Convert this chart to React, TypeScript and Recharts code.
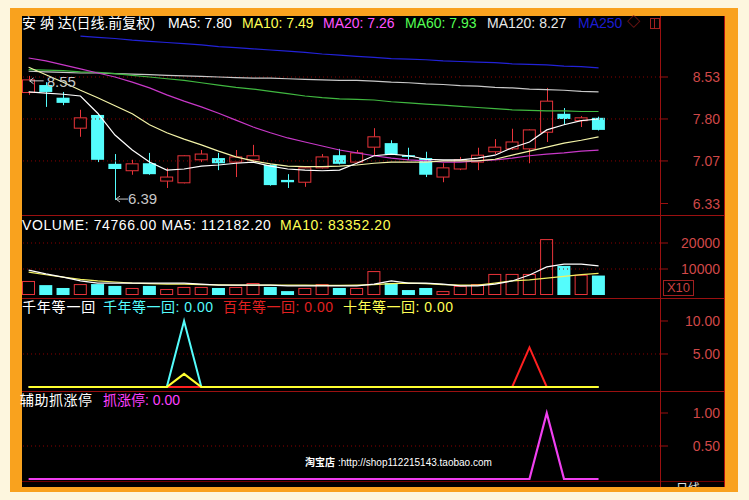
import React from 'react';
import { ComposedChart, Bar, Line, XAxis, YAxis, ReferenceLine, ReferenceDot } from 'recharts';

// daily candles
const opens = [8.26, 8.39, 8.17, 7.64, 7.87, 7.02, 6.90, 7.03, 6.72, 6.69, 7.09, 7.12, 7.05, 7.09, 7.00, 6.74, 6.70, 6.95, 7.17, 7.05, 7.31, 7.38, 7.17, 7.12, 6.79, 6.93, 7.05, 7.23, 7.28, 7.28, 7.57, 7.89, 7.77, 7.82];
const closes = [8.48, 8.27, 8.08, 7.82, 7.09, 6.93, 7.02, 6.84, 6.79, 7.16, 7.19, 7.03, 7.14, 7.16, 6.65, 6.70, 6.95, 7.14, 7.02, 7.21, 7.49, 7.19, 7.14, 6.83, 6.95, 7.09, 7.17, 7.31, 7.40, 7.61, 8.11, 7.80, 7.82, 7.61];
const highs = [8.55, 8.44, 8.27, 7.96, 7.89, 7.19, 7.09, 7.21, 6.95, 7.17, 7.26, 7.21, 7.26, 7.35, 7.01, 6.84, 6.96, 7.19, 7.28, 7.26, 7.64, 7.43, 7.30, 7.23, 7.03, 7.14, 7.30, 7.45, 7.63, 7.62, 8.34, 7.99, 7.85, 7.84];
const lows = [8.22, 8.01, 8.04, 7.49, 7.05, 6.39, 6.83, 6.83, 6.60, 6.68, 7.05, 6.91, 6.79, 7.05, 6.64, 6.60, 6.62, 6.94, 7.01, 7.03, 7.17, 7.18, 7.09, 6.79, 6.70, 6.91, 6.91, 7.19, 7.26, 7.03, 7.40, 7.70, 7.66, 7.60];

const ma5 = [8.27, 8.25, 8.23, 8.20, 7.90, 7.52, 7.26, 7.05, 6.91, 6.93, 6.98, 7.00, 7.03, 7.05, 6.98, 6.93, 6.91, 6.90, 6.91, 7.03, 7.16, 7.19, 7.16, 7.10, 7.09, 7.09, 7.12, 7.17, 7.30, 7.40, 7.61, 7.70, 7.77, 7.80];
const ma10 = [8.70, 8.57, 8.44, 8.30, 8.17, 8.03, 7.89, 7.70, 7.56, 7.45, 7.35, 7.24, 7.14, 7.07, 7.02, 6.98, 6.97, 6.97, 6.98, 7.00, 7.03, 7.05, 7.05, 7.05, 7.07, 7.07, 7.07, 7.10, 7.17, 7.24, 7.31, 7.38, 7.43, 7.49];
const ma20 = [8.86, 8.81, 8.74, 8.67, 8.60, 8.53, 8.44, 8.34, 8.22, 8.11, 8.01, 7.90, 7.78, 7.66, 7.56, 7.47, 7.40, 7.33, 7.26, 7.21, 7.16, 7.12, 7.09, 7.07, 7.05, 7.05, 7.07, 7.09, 7.12, 7.16, 7.19, 7.21, 7.24, 7.26];
const ma60 = [8.66, 8.65, 8.64, 8.62, 8.61, 8.59, 8.56, 8.53, 8.50, 8.47, 8.43, 8.39, 8.35, 8.32, 8.28, 8.24, 8.20, 8.17, 8.15, 8.14, 8.13, 8.10, 8.08, 8.06, 8.04, 8.02, 8.00, 7.98, 7.96, 7.95, 7.94, 7.94, 7.93, 7.93];
const ma120 = [8.63, 8.62, 8.61, 8.60, 8.60, 8.59, 8.58, 8.57, 8.56, 8.55, 8.54, 8.53, 8.52, 8.51, 8.51, 8.50, 8.49, 8.48, 8.47, 8.47, 8.46, 8.44, 8.43, 8.41, 8.40, 8.38, 8.37, 8.35, 8.34, 8.32, 8.31, 8.30, 8.28, 8.27];
const ma250 = [null, null, null, 9.24, 9.22, 9.20, 9.17, 9.15, 9.13, 9.11, 9.09, 9.06, 9.04, 9.02, 9.00, 8.98, 8.96, 8.93, 8.91, 8.89, 8.87, 8.85, 8.84, 8.83, 8.81, 8.80, 8.79, 8.78, 8.76, 8.75, 8.74, 8.72, 8.71, 8.69];

// volume (shown in units of x10)
const volumes = [5400, 3800, 2700, 4200, 4200, 3500, 2700, 3500, 2300, 3100, 3100, 2700, 3100, 4600, 3100, 1500, 2700, 4200, 2700, 2700, 9200, 4600, 1900, 2700, 1500, 3500, 4200, 8100, 8100, 8100, 21500, 11200, 7800, 7477];
const volMa5 = [9600, 8100, 6900, 5400, 4600, 4600, 4600, 4600, 4600, 4600, 4200, 3800, 3800, 3800, 3800, 3500, 3500, 3500, 3500, 3500, 4200, 5400, 4600, 4600, 4200, 3500, 3500, 4200, 5400, 7700, 10800, 11900, 11900, 11218];
const volMa10 = [8800, 7800, 6900, 6000, 5400, 5000, 4600, 4400, 4200, 4200, 4000, 3900, 3800, 3800, 3800, 3800, 3800, 3700, 3700, 3800, 4000, 4400, 4600, 4400, 4000, 3800, 3800, 4600, 5400, 5800, 6500, 7200, 7800, 8335];

// indicators
const qian = [0, 0, 0, 0, 0, 0, 0, 0, 0, 10, 0, 0, 0, 0, 0, 0, 0, 0, 0, 0, 0, 0, 0, 0, 0, 0, 0, 0, 0, 0, 0, 0, 0, 0];
const bai = [0, 0, 0, 0, 0, 0, 0, 0, 0, 0, 0, 0, 0, 0, 0, 0, 0, 0, 0, 0, 0, 0, 0, 0, 0, 0, 0, 0, 0, 6, 0, 0, 0, 0];
const shi = [0, 0, 0, 0, 0, 0, 0, 0, 0, 2, 0, 0, 0, 0, 0, 0, 0, 0, 0, 0, 0, 0, 0, 0, 0, 0, 0, 0, 0, 0, 0, 0, 0, 0];
const zhangting = [0, 0, 0, 0, 0, 0, 0, 0, 0, 0, 0, 0, 0, 0, 0, 0, 0, 0, 0, 0, 0, 0, 0, 0, 0, 0, 0, 0, 0, 0, 1, 0, 0, 0];

const priceTicks = [6.33, 7.07, 7.80, 8.53];
const priceGrid = [7.07, 7.80, 8.53];
const volTicks = [10000, 20000];
const ind1Ticks = [5, 10];
const ind2Ticks = [0.5, 1];

const rows = opens.map((o, i) => ({
  i,
  o,
  c: closes[i],
  h: highs[i],
  l: lows[i],
  range: [lows[i], highs[i]],
  up: closes[i] >= o,
  ma5: ma5[i],
  ma10: ma10[i],
  ma20: ma20[i],
  ma60: ma60[i],
  ma120: ma120[i],
  ma250: ma250[i],
  vol: volumes[i],
  vma5: volMa5[i],
  vma10: volMa10[i],
  qian: qian[i],
  bai: bai[i],
  shi: shi[i],
  zt: zhangting[i],
}));

const W = 749;
const AXIS_X = 660;
const PLOT_L = 20;
const STEP = 17.27;
const X_DOMAIN = [-0.5, -0.5 + (AXIS_X - PLOT_L) / STEP];

const RED = '#e8343a';
const CYAN = '#54fcfc';
const DARKRED = '#9a1010';
const LATIN = '"Liberation Sans", Arial, "Noto Sans CJK SC", sans-serif';

const Candle = (props: any) => {
  const { x, y, width, height, payload } = props;
  const { o, h, l, c } = payload;
  const top = Math.min(y, y + height);
  const bottom = Math.max(y, y + height);
  const py = (v: number) => top + ((h - v) / (h - l)) * (bottom - top);
  const cx = Math.round(x + width / 2) + 0.5;
  const bt = py(Math.max(o, c));
  const bb = py(Math.min(o, c));
  if (c >= o) {
    return (
      <g>
        <line x1={cx} x2={cx} y1={top} y2={bt} stroke={RED} />
        <line x1={cx} x2={cx} y1={bb} y2={bottom} stroke={RED} />
        <rect x={x + 0.5} y={bt} width={width - 1} height={Math.max(bb - bt, 1)} fill="#000" stroke={RED} />
      </g>
    );
  }
  return (
    <g>
      <line x1={cx} x2={cx} y1={top} y2={bottom} stroke={CYAN} />
      <rect x={x} y={bt} width={width} height={Math.max(bb - bt, 1.5)} fill={CYAN} />
    </g>
  );
};

const VolBar = (props: any) => {
  const { x, y, width, height, payload } = props;
  if (payload.up) {
    return <rect x={x + 0.5} y={y + 0.5} width={width - 1} height={height - 1} fill="none" stroke={RED} />;
  }
  return <rect x={x} y={y} width={width} height={height} fill={CYAN} />;
};

const AxisTick = (props: any) => {
  const { y, payload, fmt } = props;
  return (
    <g>
      <line x1={AXIS_X} x2={AXIS_X + 8} y1={y} y2={y} stroke={DARKRED} />
      <text x={720} y={y} dy={5} textAnchor="end" fill="#d04848" fontSize={14} fontFamily={LATIN}>
        {fmt(payload.value)}
      </text>
    </g>
  );
};

const Panel = ({ top, height, mTop, mBottom, domain, ticks, fmt, grid, children }: any) => (
  <div style={{ position: 'absolute', left: 0, top, width: W, height }}>
    <ComposedChart width={W} height={height} data={rows} margin={{ top: mTop, right: 0, bottom: mBottom, left: PLOT_L }}>
      <XAxis dataKey="i" type="number" domain={X_DOMAIN} hide allowDataOverflow />
      <YAxis
        orientation="right"
        width={W - AXIS_X}
        domain={domain}
        ticks={ticks}
        interval={0}
        allowDataOverflow
        axisLine={false}
        tickLine={false}
        tick={(p: any) => <AxisTick {...p} fmt={fmt} />}
      />
      {grid.map((g: number) => (
        <ReferenceLine key={g} y={g} stroke="#8a0000" strokeDasharray="1 3" />
      ))}
      {children}
    </ComposedChart>
  </div>
);

const HighMark = (p: any) => (
  <g>
    <path d={`M${p.cx + 1},${p.cy + 5} l4,-3 M${p.cx + 1},${p.cy + 5} l4,3 M${p.cx + 1},${p.cy + 5} h14`} stroke="#c8c8c8" fill="none" />
    <text x={p.cx + 18} y={p.cy + 11} fill="#c8c8c8" fontSize={15} fontFamily={LATIN}>8.55</text>
  </g>
);

const LowMark = (p: any) => (
  <g>
    <path d={`M${p.cx + 1},${p.cy - 1} l4,-3 M${p.cx + 1},${p.cy - 1} l4,3 M${p.cx + 1},${p.cy - 1} h12`} stroke="#c8c8c8" fill="none" />
    <text x={p.cx + 13} y={p.cy + 4} fill="#c8c8c8" fontSize={15} fontFamily={LATIN}>6.39</text>
  </g>
);

const txt = (left: number, top: number, color: string, text: string, size = 14, extra: any = {}) => (
  <span
    style={{
      position: 'absolute',
      left,
      top,
      color,
      fontSize: size,
      lineHeight: `${size + 2}px`,
      fontFamily: LATIN,
      whiteSpace: 'nowrap',
      ...extra,
    }}
  >
    {text}
  </span>
);

const hline = (top: number, left: number, width: number, color = DARKRED) => (
  <div style={{ position: 'absolute', left, top, width, height: 1, background: color }} />
);

export default function App() {
  return (
    <div style={{ position: 'absolute', left: 0, top: 0, width: W, height: 500, background: '#fdf6de', overflow: 'hidden' }}>
      <div style={{ position: 'absolute', left: 10, top: 8, width: 728, height: 484, background: '#f9a21e' }} />
      <div style={{ position: 'absolute', left: 22, top: 16, width: 703, height: 471, background: '#000' }} />

      {hline(215, 22, 703)}
      {hline(298, 22, 703)}
      {hline(391, 22, 703)}
      {hline(481, 22, 703, '#700000')}
      <div style={{ position: 'absolute', left: AXIS_X, top: 16, width: 1, height: 471, background: DARKRED }} />
      <div style={{ position: 'absolute', left: 724, top: 16, width: 1, height: 471, background: '#b01010' }} />

      <Panel top={16} height={199} mTop={0} mBottom={0} domain={[6.13, 9.591]} ticks={priceTicks} fmt={(v: number) => v.toFixed(2)} grid={priceGrid}>
        <ReferenceDot x={0} y={8.55} r={0} shape={HighMark} />
        <ReferenceDot x={5} y={6.39} r={0} shape={LowMark} />
        <Bar dataKey="range" barSize={13} shape={Candle} isAnimationActive={false} />
        <Line dataKey="ma250" stroke="#2222d8" strokeWidth={1.2} dot={false} isAnimationActive={false} />
        <Line dataKey="ma120" stroke="#c8c8c8" strokeWidth={1.2} dot={false} isAnimationActive={false} />
        <Line dataKey="ma60" stroke="#40b840" strokeWidth={1.2} dot={false} isAnimationActive={false} />
        <Line dataKey="ma20" stroke="#c838c8" strokeWidth={1.2} dot={false} isAnimationActive={false} />
        <Line dataKey="ma10" stroke="#f4f4a8" strokeWidth={1.2} dot={false} isAnimationActive={false} />
        <Line dataKey="ma5" stroke="#ffffff" strokeWidth={1.2} dot={false} isAnimationActive={false} />
      </Panel>

      <Panel top={215} height={82} mTop={15} mBottom={2} domain={[0, 25000]} ticks={volTicks} fmt={(v: number) => String(v)} grid={volTicks}>
        <Bar dataKey="vol" barSize={13} shape={VolBar} isAnimationActive={false} />
        <Line dataKey="vma10" stroke="#f0f060" strokeWidth={1.2} dot={false} isAnimationActive={false} />
        <Line dataKey="vma5" stroke="#ffffff" strokeWidth={1.2} dot={false} isAnimationActive={false} />
      </Panel>

      <Panel top={298} height={92} mTop={7} mBottom={0} domain={[-0.4545, 12.424]} ticks={ind1Ticks} fmt={(v: number) => v.toFixed(2)} grid={[5]}>
        <Line dataKey="bai" stroke="#ff2020" strokeWidth={2} dot={false} isAnimationActive={false} />
        <Line dataKey="qian" stroke={CYAN} strokeWidth={2} dot={false} isAnimationActive={false} />
        <Line dataKey="shi" stroke="#ffff30" strokeWidth={2.2} dot={false} isAnimationActive={false} />
      </Panel>

      <Panel top={391} height={97} mTop={7} mBottom={6} domain={[-0.04545, 1.2273]} ticks={ind2Ticks} fmt={(v: number) => v.toFixed(2)} grid={[0.5]}>
        <Line dataKey="zt" stroke="#f040f0" strokeWidth={2.2} dot={false} isAnimationActive={false} />
      </Panel>

      {/* title row */}
      {txt(22, 15, '#ffffff', '安 纳 达(日线.前复权)')}
      {txt(168, 15, '#ffffff', 'MA5: 7.80')}
      {txt(242, 15, '#ffff54', 'MA10: 7.49')}
      {txt(323, 15, '#ff54ff', 'MA20: 7.26')}
      {txt(405, 15, '#54ff54', 'MA60: 7.93')}
      {txt(487, 15, '#e8e8e8', 'MA120: 8.27')}
      {txt(578, 15, '#1c1cd0', 'MA250')}
      {txt(627, 14, '#a02020', '◇', 13)}
      <div style={{ position: 'absolute', left: 650, top: 18, width: 8, height: 9, border: '1px solid #a02020' }}>
        <div style={{ position: 'absolute', left: 3, top: 0, width: 1, height: 9, background: '#a02020' }} />
      </div>

      {/* volume label */}
      {txt(22, 217, '#ffffff', 'VOLUME: 74766.00  MA5: 112182.20', 14, { letterSpacing: 0.6 })}
      {txt(280, 217, '#ffff54', 'MA10: 83352.20', 14, { letterSpacing: 0.6 })}
      <div
        style={{
          position: 'absolute', left: 663, top: 280, width: 29, height: 14, border: '1px solid #a02020',
          color: '#c84040', fontSize: 13, lineHeight: '14px', fontFamily: LATIN, textAlign: 'center',
        }}
      >
        X10
      </div>

      {/* indicator labels */}
      {txt(22, 299, '#ffffff', '千年等一回', 14, { letterSpacing: 0.8 })}
      {txt(103, 299, CYAN, '千年等一回: 0.00', 14, { letterSpacing: 0.5 })}
      {txt(223, 299, '#e02020', '百年等一回: 0.00', 14, { letterSpacing: 0.5 })}
      {txt(343, 299, '#ffff54', '十年等一回: 0.00', 14, { letterSpacing: 0.5 })}

      {txt(20, 392, '#ffffff', '辅助抓涨停', 14, { letterSpacing: 0.5 })}
      {txt(103, 392, '#ff40ff', '抓涨停: 0.00')}

      {txt(305, 457, '#ffffff', '淘宝店', 10, { fontWeight: 'bold' })}
      {txt(338, 457, '#ffffff', ':http://shop112215143.taobao.com', 10)}

      <div style={{ position: 'absolute', left: 676, top: 482, width: 40, height: 5, overflow: 'hidden' }}>
        {txt(0, 0, '#e0e0e0', '日线', 12)}
      </div>
    </div>
  );
}
